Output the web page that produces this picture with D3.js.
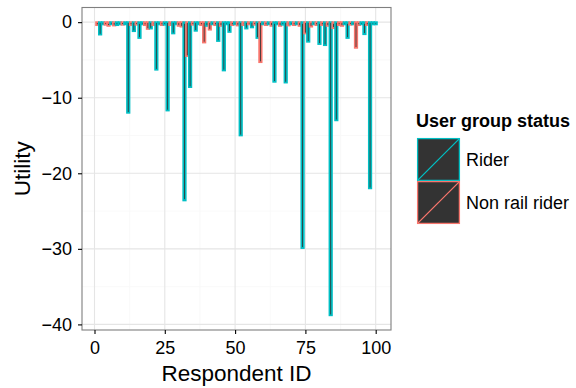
<!DOCTYPE html>
<html lang="en">
<head>
<meta charset="UTF-8" />
<script src="https://d3js.org/d3.v7.min.js"></script>
<style>
  body { margin: 0; background: #fff; }
  svg text { font-family: "Liberation Sans", Arial, sans-serif; }
</style>
</head>
<body>
<div id="chart"></div>
<script>
// respondent ids, utility values and user group (R = Rider, N = Non rail rider)
var ids = [1,2,3,4,5,6,7,8,9,10,11,12,13,14,15,16,17,18,19,20,
  21,22,23,24,25,26,27,28,29,30,31,32,33,34,35,36,37,38,39,40,
  41,42,43,44,45,46,47,48,49,50,51,52,53,54,55,56,57,58,59,60,
  61,62,63,64,65,66,67,68,69,70,71,72,73,74,75,76,77,78,79,80,
  81,82,83,84,85,86,87,88,89,90,91,92,93,94,95,96,97,98,99,100];
var utility = [-0.4,-1.65,-0.3,-0.35,-0.5,-0.3,-0.45,-0.4,-0.3,-0.35,
  -0.3,-12.0,-0.4,-1.2,-0.35,-2.1,-0.3,-0.4,-0.9,-0.85,
  -0.4,-6.3,-0.3,-0.4,-0.35,-11.7,-0.4,-1.5,-0.3,-0.5,
  -0.6,-23.6,-4.5,-8.6,-0.35,-1.15,-0.3,-0.4,-2.7,-0.5,
  -1.0,-0.3,-0.4,-2.5,-0.5,-6.4,-0.3,-1.3,-0.4,-0.3,
  -0.45,-15.0,-0.4,-0.85,-0.3,-0.7,-0.35,-2.1,-5.3,-0.3,
  -0.4,-0.3,-0.5,-7.9,-0.3,-0.5,-0.35,-8.0,-0.45,-0.3,
  -0.4,-0.3,-0.5,-29.9,-1.5,-2.6,-0.6,-0.3,-0.4,-2.9,
  -0.4,-3.05,-0.5,-38.8,-0.8,-13.0,-0.4,-0.5,-0.3,-2.1,
  -0.35,-0.3,-3.4,-0.4,-0.3,-1.6,-0.4,-22.0,-0.3,-0.3];
var group = ["N","R","R","N","N","R","N","R","R","N",
  "R","R","N","R","N","R","R","N","N","R",
  "N","R","R","N","R","R","N","R","R","N",
  "N","R","N","R","N","R","R","N","N","R",
  "N","R","N","R","N","R","R","R","N","R",
  "N","R","N","R","N","R","N","R","N","R",
  "N","R","N","R","R","N","R","R","N","R",
  "N","R","N","R","N","R","N","R","N","R",
  "N","R","N","R","N","R","N","N","R","R",
  "N","R","N","N","R","R","N","R","R","R"];
var groupKeys = ["R", "N"];
var groupLabels = ["Rider", "Non rail rider"];
var groupColors = ["#00BFC4", "#F8766D"];
var xTicks = [0, 25, 50, 75, 100];
var yTicks = [0, -10, -20, -30, -40];

var data = ids.map(function (id, i) {
  return { id: id, value: utility[i], group: group[i] };
});

var W = 576, H = 388;
var panel = { left: 82, right: 391, top: 7.5, bottom: 330 };

var svg = d3.select("#chart").append("svg")
  .attr("width", W).attr("height", H);

// x: continuous ids, bars 0.9 wide, 5% expansion
var xlo = d3.min(ids) - 0.45, xhi = d3.max(ids) + 0.45;
var xpad = (xhi - xlo) * 0.05;
var x = d3.scaleLinear().domain([xlo - xpad, xhi + xpad])
  .range([panel.left, panel.right]);

var ylo = Math.min(0, d3.min(utility)), yhi = Math.max(0, d3.max(utility));
var ypad = (yhi - ylo) * 0.05;
var y = d3.scaleLinear().domain([ylo - ypad, yhi + ypad])
  .range([panel.bottom, panel.top]);

var color = d3.scaleOrdinal().domain(groupKeys).range(groupColors);

// panel background + grid
svg.append("rect")
  .attr("x", panel.left).attr("y", panel.top)
  .attr("width", panel.right - panel.left)
  .attr("height", panel.bottom - panel.top)
  .attr("fill", "#fff");

var grid = svg.append("g");
var xMinor = [12.5, 37.5, 62.5, 87.5];
var yMinor = [-5, -15, -25, -35];
grid.selectAll(".xm").data(xMinor).enter().append("line")
  .attr("x1", d => x(d)).attr("x2", d => x(d))
  .attr("y1", panel.top).attr("y2", panel.bottom)
  .attr("stroke", "#f7f7f7").attr("stroke-width", 0.8);
grid.selectAll(".ym").data(yMinor).enter().append("line")
  .attr("x1", panel.left).attr("x2", panel.right)
  .attr("y1", d => y(d)).attr("y2", d => y(d))
  .attr("stroke", "#f7f7f7").attr("stroke-width", 0.8);
grid.selectAll(".xg").data(xTicks).enter().append("line")
  .attr("x1", d => x(d)).attr("x2", d => x(d))
  .attr("y1", panel.top).attr("y2", panel.bottom)
  .attr("stroke", "#e5e5e5").attr("stroke-width", 1.1);
grid.selectAll(".yg").data(yTicks).enter().append("line")
  .attr("x1", panel.left).attr("x2", panel.right)
  .attr("y1", d => y(d)).attr("y2", d => y(d))
  .attr("stroke", "#e5e5e5").attr("stroke-width", 1.1);

// bars
svg.append("g").selectAll("rect").data(data).enter().append("rect")
  .attr("x", d => x(d.id - 0.45))
  .attr("width", d => x(d.id + 0.45) - x(d.id - 0.45))
  .attr("y", d => y(Math.max(0, d.value)))
  .attr("height", d => Math.abs(y(d.value) - y(0)))
  .attr("fill", "#333333")
  .attr("stroke", d => color(d.group))
  .attr("stroke-width", 1.7);

// panel border
svg.append("rect")
  .attr("x", panel.left).attr("y", panel.top)
  .attr("width", panel.right - panel.left)
  .attr("height", panel.bottom - panel.top)
  .attr("fill", "none").attr("stroke", "#7f7f7f").attr("stroke-width", 1.1);

// axes
var xAxis = svg.append("g")
  .attr("transform", "translate(0," + panel.bottom + ")")
  .call(d3.axisBottom(x).tickValues(xTicks).tickSize(4).tickPadding(7));
var yAxis = svg.append("g")
  .attr("transform", "translate(" + panel.left + ",0)")
  .call(d3.axisLeft(y).tickValues(yTicks).tickSize(4).tickPadding(6)
    .tickFormat(d => d < 0 ? "\u2212" + Math.abs(d) : d));
[xAxis, yAxis].forEach(function (a) {
  a.attr("font-family", null).attr("font-size", null);
  a.select(".domain").remove();
  a.selectAll(".tick line").attr("stroke", "#000").attr("stroke-width", 1.1);
  a.selectAll(".tick text").attr("fill", "#000")
    .style("font-size", "18px");
});

// axis titles
svg.append("text")
  .attr("x", (panel.left + panel.right) / 2).attr("y", 381)
  .attr("text-anchor", "middle").style("font-size", "22.5px")
  .text("Respondent ID");
svg.append("text")
  .attr("transform", "translate(30," + ((panel.top + panel.bottom) / 2) + ") rotate(-90)")
  .attr("text-anchor", "middle").style("font-size", "22.5px")
  .text("Utility");

// legend
var lg = svg.append("g").attr("transform", "translate(417,138)");
lg.append("text").attr("x", -1).attr("y", -11)
  .style("font-size", "18px").style("font-weight", "bold")
  .text("User group status");
var key = 43;
groupKeys.forEach(function (g, i) {
  var row = lg.append("g").attr("transform", "translate(0," + i * key + ")");
  row.append("rect").attr("x", 0.6).attr("y", 0.6)
    .attr("width", key - 1.2).attr("height", key - 1.2)
    .attr("fill", "#333333").attr("stroke", color(g)).attr("stroke-width", 1.3);
  row.append("line").attr("x1", 0.6).attr("y1", key - 0.6)
    .attr("x2", key - 0.6).attr("y2", 0.6)
    .attr("stroke", color(g)).attr("stroke-width", 1.3);
  row.append("text").attr("x", key + 6).attr("y", key / 2)
    .attr("dy", "0.35em").style("font-size", "18px")
    .text(groupLabels[i]);
});
</script>
</body>
</html>
